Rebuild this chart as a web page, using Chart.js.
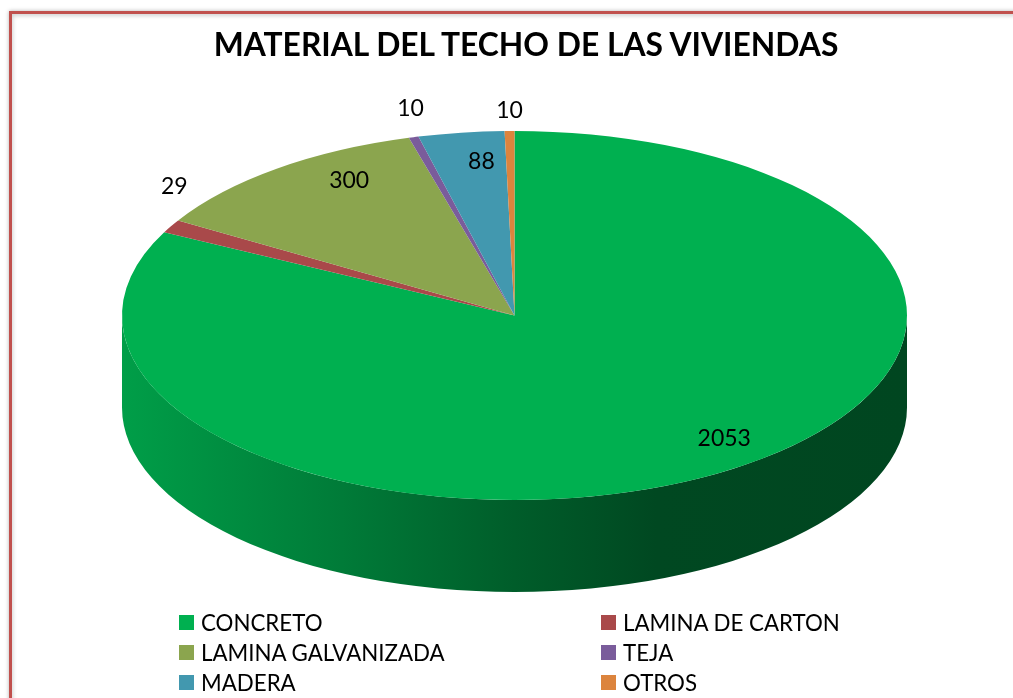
<!DOCTYPE html>
<html><head><meta charset="utf-8">
<script src="https://cdn.jsdelivr.net/npm/chart.js@4"></script>
<style>
html,body{margin:0;padding:0;background:#fff;width:1013px;height:698px;overflow:hidden;}
#frame{position:absolute;left:9px;top:11px;width:1100px;height:800px;border:3px solid #C0504D;box-shadow:0 0 4px rgba(0,0,0,.3), inset 1px 2px 4px rgba(0,0,0,.18);}
#wrap{position:absolute;left:0;top:0;width:1013px;height:698px;}
#title{position:absolute;left:26px;width:1000px;top:24px;text-align:center;font-family:Lato,'Open Sans',sans-serif;font-weight:bold;font-size:31.8px;line-height:40px;color:#000;white-space:nowrap;}
#legend{position:absolute;left:0;top:0;width:1013px;height:698px;pointer-events:none;font-family:Lato,'Open Sans',sans-serif;font-size:22.3px;color:#000;}
.item{position:absolute;display:flex;align-items:center;white-space:nowrap;height:30px;}
.sw{width:15px;height:15px;margin-right:7px;flex:none;}
</style></head>
<body>
<div id="frame"></div>
<div id="wrap"><canvas id="c" width="1013" height="698"></canvas></div>
<div id="title"></div>
<div id="legend"></div>
<script>
const categories = ['CONCRETO','LAMINA DE CARTON','LAMINA GALVANIZADA','TEJA','MADERA','OTROS'];
const values = [2053, 29, 300, 10, 88, 10];
const colors = ['#00B050','#A9494A','#8BA54E','#7A5C9B','#4298AF','#DC843D'];
const titleText = 'MATERIAL DEL TECHO DE LAS VIVIENDAS';

// style: label anchor factors relative to slice mid-angle on the ellipse
const labelPlacement = [
  {fx:1.02, fy:0.78}, {fx:0.99, fy:1.45}, {fx:0.695, fy:0.916},
  {fx:1.03, fy:1.16}, {fx:0.62, fy:0.84}, {fx:1.0, fy:1.11}
];
const DEPTH = 92;
const FONT = 'Lato, "Open Sans", sans-serif';

function hexRgb(h){const n=parseInt(h.slice(1),16);return [(n>>16)&255,(n>>8)&255,n&255];}
function shade(h,f){const c=hexRgb(h);return 'rgb('+c.map(v=>Math.round(v*f)).join(',')+')';}

const pie3d = {
  id:'pie3d',
  beforeDatasetsDraw(chart){
    const ctx = chart.ctx, ca = chart.chartArea;
    const meta = chart.getDatasetMeta(0);
    const a0 = meta.data[0];
    const R = a0.outerRadius;
    const cx = (ca.left+ca.right)/2, cy = (ca.top+ca.bottom)/2;
    const rx = (ca.right-ca.left)/2, ry = (ca.bottom-ca.top)/2;
    chart.$geo = {cx,cy,rx,ry};
    meta.data.forEach((arc,i)=>{
      const s = Math.max(arc.startAngle, 0), e = Math.min(arc.endAngle, Math.PI);
      if (e <= s) return;
      const g = ctx.createLinearGradient(cx-rx,0,cx+rx,0);
      const base = colors[i];
      g.addColorStop(0, shade(base,0.9));
      g.addColorStop(0.28, shade(base,0.7));
      g.addColorStop(0.5, shade(base,0.53));
      g.addColorStop(0.68, shade(base,0.41));
      g.addColorStop(1, shade(base,0.4));
      ctx.save();
      ctx.beginPath();
      ctx.ellipse(cx,cy,rx,ry,0,s,e,false);
      ctx.ellipse(cx,cy+DEPTH,rx,ry,0,e,s,true);
      ctx.closePath();
      ctx.fillStyle = g;
      ctx.fill();
      ctx.restore();
    });
    ctx.save();
    ctx.translate(cx,cy);
    ctx.scale(rx/R, ry/R);
    ctx.translate(-a0.x,-a0.y);
  },
  afterDatasetsDraw(chart){
    const ctx = chart.ctx;
    ctx.restore();
    const {cx,cy,rx,ry} = chart.$geo;
    const meta = chart.getDatasetMeta(0);
    ctx.save();
    ctx.font = '23px ' + FONT;
    ctx.fillStyle = '#000';
    ctx.textAlign = 'center';
    ctx.textBaseline = 'middle';
    meta.data.forEach((arc,i)=>{
      const m = (arc.startAngle+arc.endAngle)/2;
      const p = labelPlacement[i];
      const x = cx + p.fx*rx*Math.cos(m);
      const y = cy + p.fy*ry*Math.sin(m);
      ctx.fillText(String(values[i]), x, y);
    });
    ctx.restore();
  }
};

document.getElementById('title').textContent = titleText;

const chart = new Chart(document.getElementById('c'), {
  type:'pie',
  data:{labels:categories, datasets:[{data:values, backgroundColor:colors, borderWidth:0, hoverOffset:0}]},
  options:{
    responsive:false, animation:false,
    layout:{padding:{left:122,right:106,top:131,bottom:198}},
    plugins:{
      legend:{display:false},
      tooltip:{enabled:false},
      title:{display:false}
    }
  },
  plugins:[pie3d]
});

const lg = document.getElementById('legend');
const colX = [179, 601], rowTop = 607.5, rowStep = 30;
categories.forEach((c,i)=>{
  const d = document.createElement('div');
  d.className='item';
  d.style.left = colX[i%2]+'px';
  d.style.top = (rowTop + Math.floor(i/2)*rowStep)+'px';
  const sw = document.createElement('span'); sw.className='sw'; sw.style.background=colors[i];
  const t = document.createElement('span'); t.textContent=c;
  d.appendChild(sw); d.appendChild(t); lg.appendChild(d);
});
</script>
</body></html>
